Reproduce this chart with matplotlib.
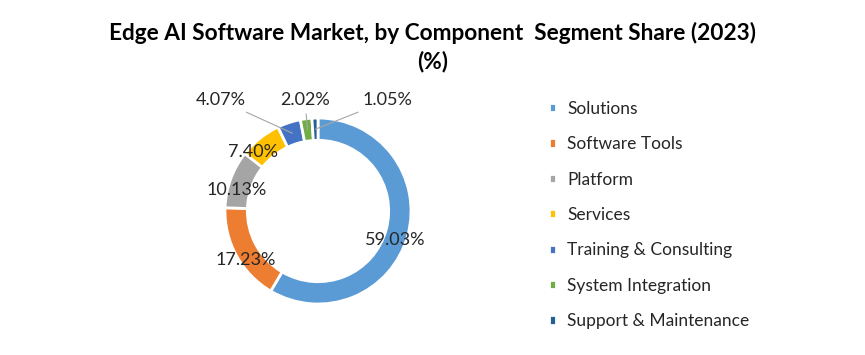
import matplotlib.pyplot as plt
import numpy as np

categories = ['Solutions', 'Software Tools', 'Platform', 'Services',
              'Training & Consulting', 'System Integration', 'Support & Maintenance']
shares = [59.03, 17.23, 10.13, 7.40, 4.07, 2.02, 1.05]
colors = ['#5B9BD5', '#ED7D31', '#A5A5A5', '#FFC000', '#4472C4', '#70AD47', '#255E91']

# label positions in pie data units (layout only)
label_pos = [(0.83, -0.31), (-0.78, -0.53), (-0.87, 0.23), (-0.70, 0.63),
             (-1.05, 1.19), (-0.14, 1.19), (0.75, 1.19)]
leader = [False, False, False, False, True, True, True]

plt.rcParams['font.family'] = ['Lato', 'DejaVu Sans']

fig = plt.figure(figsize=(8.65, 3.55), dpi=100)
W, H = 865, 355
cx, cy, r = 318, 211, 93
ax = fig.add_axes([(cx - r) / W, (H - cy - r) / H, 2 * r / W, 2 * r / H])

wedges, _ = ax.pie(shares, colors=colors, startangle=90, counterclock=False,
                   radius=1.0, wedgeprops=dict(width=0.24, edgecolor='white', linewidth=2))
ax.set_xlim(-1, 1)
ax.set_ylim(-1, 1)
ax.set_aspect('equal')
ax.axis('off')

for w, val, (tx, ty), ld in zip(wedges, shares, label_pos, leader):
    txt = f'{val:.2f}%'
    if ld:
        ang = np.deg2rad((w.theta1 + w.theta2) / 2)
        px, py = 0.88 * np.cos(ang), 0.88 * np.sin(ang)
        ax.annotate(txt, xy=(px, py), xytext=(tx, ty), ha='center', va='center',
                    fontsize=13, color='#262626', annotation_clip=False,
                    arrowprops=dict(arrowstyle='-', color='#A6A6A6', lw=0.8,
                                    shrinkA=2, shrinkB=0))
    else:
        ax.text(tx, ty, txt, ha='center', va='center', fontsize=13, color='#262626',
                clip_on=False)

fig.text(0.5, 1 - 33 / H, 'Edge AI Software Market, by Component  Segment Share (2023)',
         ha='center', va='center', fontsize=16.3, fontweight='bold', color='black')
fig.text(0.5, 1 - 62 / H, '(%)', ha='center', va='center', fontsize=16.3,
         fontweight='bold', color='black')

fig.legend(wedges, categories, loc='upper left', bbox_to_anchor=(540 / W, 1 - 92 / H),
           frameon=False, fontsize=12.5, handlelength=0.45, handleheight=0.45,
           handletextpad=0.6, labelspacing=1.12, labelcolor='#262626', borderpad=0)

fig.savefig('out.png', dpi=100, facecolor='white')
